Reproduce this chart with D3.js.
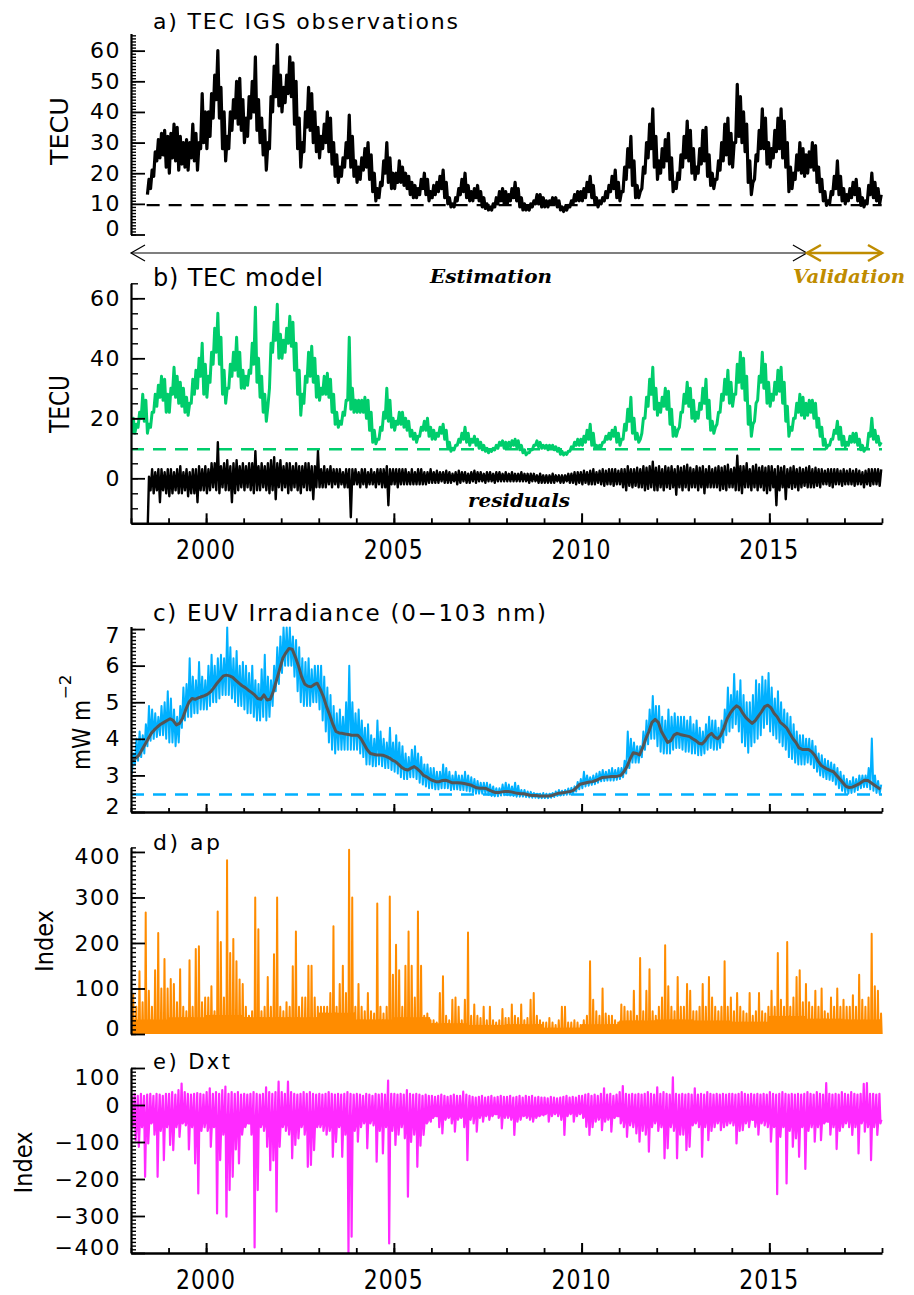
<!DOCTYPE html>
<html lang="en">
<head>
<meta charset="UTF-8">
<title>TEC, EUV irradiance and geomagnetic indices 1998-2018</title>
<script src="https://d3js.org/d3.v7.min.js"></script>
<style>
  body { margin: 0; background: #fff; }
  svg { display: block; font-family: "DejaVu Sans", sans-serif; }
</style>
</head>
<body>
<svg id="chart" width="914" height="1295"></svg>
<script>
// ---- data: one value per month, Jan 1998 .. Dec 2017 (one row per year) ----

// a) TEC IGS observations, monthly low / high of the daily curve (TECU)
const tecObsHi = [
  null,null,null,null,null,18,21,27,31,33,34,32,
  33,36,35,32,30,31,30,36,33,30,46,40,
  40,46,52,60,48,40,32,40,44,50,51,44,
  38,45,50,58,44,38,34,30,45,55,62,52,
  48,52,58,56,50,38,30,40,48,46,40,35,
  32,36,40,38,30,26,22,25,30,39,32,24,
  22,25,28,30,26,20,15,17,24,30,25,20,
  20,24,22,20,19,17,16,15,18,20,18,14,
  16,17,19,21,17,12,10,12,15,18,20,16,
  14,15,16,14,12,10,9,10,12,14,15,14,
  13,15,17,15,12,10,9,10,11,13,13,12,
  11,11,12,12,11,9,9,9.5,11,13,14,14,
  15,17,19,16,12,11,12,14,16,19,21,17,
  14,22,28,32,24,16,14,22,30,36,41,32,
  24,28,31,33,25,17,20,26,32,37,34,28,
  22,28,34,35,26,20,18,24,30,36,38,33,
  30,49,45,40,36,24,17,26,34,41,38,30,
  28,34,38,41,37,30,22,20,26,30,28,26,
  27,30,29,22,18,14,11,14,19,24,19,15,
  13,15,17,18,15,12,11,16,20,17,15,13
];
const tecObsLo = [
  null,null,null,null,null,13,15,19,24,25,26,22,
  20,25,24,21,23,22,21,25,24,21,28,30,
  28,32,38,44,38,28,24,28,34,38,36,34,
  30,32,38,40,34,30,26,21,28,40,45,42,
  40,43,46,45,36,28,22,27,35,34,30,27,
  25,28,30,27,23,19,17,19,22,25,22,19,
  17,18,21,22,18,14,11,12,16,20,17,15,
  15,17,17,16,15,13,12,12,13,15,13,11,
  12,13,14,15,12,10,9,9,11,13,14,12,
  11,11,12,11,9,8.5,8,8,9,10,11,10,
  10,11,12,11,9,8,8,8,9,10,10,9,
  9,9,10,10,9,8,7.5,8,9,10,11,11,
  11,12,14,12,10,9,10,11,12,14,15,12,
  11,14,18,22,16,12,12,15,20,25,28,22,
  18,20,22,24,18,14,15,18,22,25,24,20,
  18,20,23,24,19,16,15,18,21,24,26,23,
  22,30,32,30,27,17,13,18,24,28,28,23,
  22,25,27,28,25,22,14,15,18,21,20,19,
  20,22,21,17,14,11,9.5,10,13,15,13,11,
  10,11,12,13,11,9.5,9,10,13,12,11,10
];

// b) TEC model, monthly low / high (TECU)
const tecModHi = [
  20,18,22,28,26,18,22,28,31,34,33,28,
  30,37,34,32,30,27,25,33,36,40,45,38,
  34,42,50,55,47,36,30,38,42,47,42,36,
  34,36,45,57,40,34,28,24,45,52,58,48,
  46,50,54,52,45,36,28,34,42,44,40,34,
  30,34,35,33,28,22,19,22,26,47,30,26,
  26,26,27,26,22,16,13,17,22,30,26,20,
  19,22,22,20,19,16,15,14,17,19,20,17,
  16,15,17,18,16,12,10,11,13,15,17,15,
  13,14,13,12,11,10,9.5,10,11,12,12.5,12,
  12,12.5,13,12.5,11,9.5,8.5,9.5,11,12.5,12,11,
  11,11,11,10.5,10,9,8.5,9,10.5,12,13,13,
  14,16,18,15,11,11,12,14,15,16,17,15,
  13,18,23,27,20,15,13,20,27,33,37,30,
  25,27,30,29,23,17,16,22,28,32,30,26,
  22,25,30,33,26,19,17,22,28,33,36,32,
  28,38,42,40,34,24,18,25,34,42,38,32,
  28,32,36,37,32,24,17,20,25,28,27,25,
  26,26,25,20,17,13,11,13,16,19,17,14,
  12,14,15,15,13,11,10,15,20,16,14,12
];
const tecModLo = [
  15,15,17,20,19,15,17,22,24,27,26,22,
  22,28,27,25,24,22,21,25,28,30,34,28,
  27,32,38,42,38,28,25,30,34,36,34,30,
  30,31,35,38,32,27,22,19,30,42,46,40,
  40,42,45,44,36,28,21,25,32,34,32,27,
  26,28,28,27,22,18,17,18,21,26,23,22,
  22,22,22,20,16,12,11.5,13,16,20,19,17,
  16,18,18,17,16,14,13,12,14,16,16,14,
  13,13,14,15,13,10,9,9.5,11,12,13,12,
  11,12,11,10,9.5,9,8.5,9,9.5,10,11,10,
  10,10.5,11,10.5,9.5,8.5,7.8,8.5,9.5,11,10.5,10,
  10,9.5,10,9.5,9,8,7.8,8,9,10,11,11,
  11,12,13,11,10,10,10.5,12,13,13,14,12,
  11,13,16,19,15,13,12,15,20,24,28,23,
  21,22,24,23,18,14,14,17,22,25,24,20,
  19,20,23,25,20,16,15,18,22,26,28,25,
  24,28,32,30,26,18,14,19,26,32,30,25,
  24,26,28,29,25,19,14,16,20,22,21,20,
  21,22,20,17,14,11,10,11,13,15,13,11,
  10.5,11,12,12,11,9.5,9,10,14,13,12,11
];

// b) residuals (obs - model), monthly low / high (TECU)
const resHi = [
  null,null,null,null,null,0.5,3,2,3,3,2,3,
  3,2,3,4,2,3,2,3,3,4,3,4,
  3,5,5,12,4,5,6,4,5,6,4,5,
  4,5,5,9,4,5,4,5,6,7,5,6,
  4,5,5,4,5,4,4,5,5,4,4,9,
  3,4,3,4,3,3,3,2,3,3,3,3,
  2,3,3,2,3,2,3,3,3,4,3,3,
  3,3,3,3,2,3,2,3,3,2,2,3,
  2,2.5,2,2,2.5,2,1.5,2,2.5,2,2,1.5,
  2,2.5,2,2,1.5,2,2,1.5,2,2,1.5,2,
  1.5,2,1.5,1.5,2,1.5,1.5,1.5,1.5,1,1.5,1,
  1,1,1.5,1,1,1,1,1.5,1.5,2,2,2,
  2.5,2,2.5,3,2,2.5,3,2.5,3,3,3,2.5,
  3,3,4,3,3,3.5,3,4,3.5,4,5.5,3.5,
  4,3,4,3.5,4,3,4,3.5,4,4.5,3.5,3,
  4,3.5,4,3,4,3,3.5,4,3.5,4,4.5,3,
  3.5,7.5,4,4,5,3,4,4.5,3.5,4,3.5,4,
  4,3,4,3.5,4,3,3.5,4,3,3.5,3,3.5,
  4,3,3.5,3,3,2.5,3,3,3,3,2.5,3,
  2.5,3,2.5,3,2.5,2,2.5,3,3,3,3,3
];
const resLo = [
  null,null,null,null,null,-20,-4,-5,-4,-8,-4,-5,
  -6,-5,-4,-5,-5,-4,-6,-5,-5,-8,-4,-4,
  -5,-4,-3,-4,-5,-3,-4,-4,-8,-5,-4,-3,
  -4,-3,-4,-5,-4,-4,-3,-4,-5,-4,-7,-3,
  -4,-3,-5,-4,-3,-4,-5,-3,-4,-4,-7,-3,
  -3,-3,-3,-2,-3,-2,-3,-2,-3,-3,-13,-2,
  -2,-3,-2,-3,-2,-2,-3,-2,-3,-3,-9,-2,
  -2,-3,-2,-2,-2,-2,-2,-2,-2,-2,-2,-1.5,
  -1.5,-1.5,-1.5,-1,-1.5,-1.5,-1.5,-1,-2,-1.5,-1,-1.5,
  -1.5,-1,-1.5,-1,-1,-1.5,-1,-1,-1.5,-1,-1,-1,
  -1,-1,-1,-1,-1,-1,-1,-1.5,-1,-1,-1.5,-1.5,
  -1.5,-1.5,-1.5,-1.5,-1,-1.5,-1.5,-1,-1.5,-1.5,-2,-1.5,
  -2,-1.5,-2,-2,-2,-1.5,-2,-2.5,-2,-2,-2.5,-2,
  -2,-3,-4,-2.5,-3,-2.5,-3,-3,-4,-3.5,-3,-4,
  -4,-3,-4,-3,-3.5,-3,-5.5,-3,-4,-3,-4,-3,
  -3,-4,-3,-5,-3,-3,-3,-3,-4,-3.5,-4,-3,
  -3,-4,-4,-5,-3,-3,-4,-3,-4,-3,-4,-5,
  -4,-3,-9,-4,-3,-7,-3,-3.5,-3,-4,-3,-2.5,
  -3,-3,-3,-2.5,-3,-2,-2,-2.5,-3,-2,-2,-2.5,
  -2,-2,-2,-2.5,-2,-2,-3,-2,-2.5,-2,-2,-2.5
];

// c) EUV irradiance 0-103 nm (mW m^-2): monthly low / high and smoothed curve
const euvHi = [
  3.6,4.0,4.2,4.1,4.4,4.9,4.8,4.7,4.6,4.9,5.0,5.3,
  5.1,4.8,4.6,4.9,5.4,5.5,6.2,5.7,5.6,6.1,5.7,5.6,
  6.0,6.3,6.0,6.2,6.3,6.2,7.05,6.5,6.2,6.4,6.0,6.1,
  6.0,5.8,6.0,5.6,5.5,5.9,6.3,5.7,5.6,6.0,6.5,6.8,
  7.05,7.05,7.05,6.8,6.7,6.5,6.2,6.1,6.2,5.9,6.0,6.0,
  6.0,5.7,5.4,5.2,4.9,4.7,4.8,4.6,5.0,6.0,5.0,4.7,
  4.8,4.5,4.3,4.4,4.1,4.0,4.5,4.2,4.0,3.9,4.3,3.9,
  4.1,3.9,3.8,3.6,3.5,3.7,3.8,3.6,3.5,3.3,3.3,3.2,
  3.2,3.1,3.1,3.3,3.2,3.1,3.0,3.1,3.0,3.0,3.1,3.0,
  2.95,2.9,2.85,2.8,2.8,2.8,2.75,2.7,2.65,2.65,2.75,2.8,
  2.75,2.7,2.8,2.72,2.6,2.6,2.56,2.55,2.52,2.5,2.5,2.52,
  2.5,2.5,2.52,2.56,2.6,2.58,2.6,2.64,2.66,2.7,2.82,2.9,
  3.1,3.0,2.95,3.0,3.05,3.1,3.15,3.1,3.15,3.2,3.15,3.2,
  3.2,3.4,4.2,4.0,3.9,3.8,3.8,4.2,4.5,4.8,5.17,4.9,
  4.9,4.6,4.5,4.8,4.6,4.7,4.6,4.6,4.6,4.5,4.6,4.4,
  4.5,4.3,4.2,4.4,4.6,4.5,4.5,4.3,4.5,4.8,5.4,5.2,
  5.77,5.3,5.6,5.2,5.0,5.0,5.2,5.6,5.5,5.7,5.6,5.8,
  5.4,5.1,5.3,5.0,4.8,4.7,4.6,4.4,4.2,4.1,4.1,4.0,
  4.0,3.95,3.8,3.6,3.55,3.45,3.4,3.35,3.3,3.2,3.1,3.0,
  2.9,2.85,2.95,2.9,3.0,3.0,3.0,3.2,4.01,3.0,2.85,2.75
];
const euvLo = [
  3.05,3.3,3.4,3.5,3.6,3.8,3.95,4.0,4.05,4.1,4.1,4.0,
  3.9,3.9,3.8,3.9,4.3,4.5,4.6,4.6,4.7,4.7,4.8,4.8,
  4.8,4.9,5.0,5.0,5.1,5.2,5.2,5.2,5.1,5.0,4.9,4.9,
  4.8,4.7,4.7,4.6,4.5,4.5,4.6,4.5,4.6,4.9,5.3,5.5,
  5.8,6.0,6.0,6.0,5.7,5.3,5.0,4.9,4.9,4.9,5.0,5.0,
  4.8,4.5,4.2,3.9,3.7,3.6,3.7,3.7,3.7,3.7,3.7,3.7,
  3.7,3.6,3.5,3.3,3.3,3.25,3.25,3.3,3.25,3.2,3.2,3.15,
  3.1,3.05,2.95,2.9,2.9,2.95,2.95,2.9,2.8,2.75,2.7,2.65,
  2.65,2.62,2.62,2.65,2.65,2.65,2.6,2.62,2.62,2.6,2.6,2.58,
  2.56,2.53,2.5,2.5,2.5,2.5,2.47,2.44,2.43,2.43,2.45,2.46,
  2.46,2.45,2.44,2.42,2.42,2.42,2.41,2.4,2.39,2.39,2.38,2.38,
  2.38,2.38,2.39,2.41,2.44,2.45,2.46,2.47,2.48,2.5,2.56,2.62,
  2.65,2.7,2.72,2.74,2.76,2.8,2.84,2.85,2.86,2.86,2.86,2.88,
  2.9,2.95,3.05,3.2,3.35,3.35,3.35,3.5,3.7,3.85,4.0,4.0,
  3.8,3.65,3.6,3.6,3.6,3.7,3.75,3.75,3.7,3.65,3.65,3.6,
  3.6,3.55,3.55,3.6,3.7,3.75,3.7,3.7,3.75,3.9,4.1,4.2,
  4.3,4.4,4.2,3.9,3.8,3.62,3.8,3.9,4.0,4.1,4.3,4.4,
  4.2,4.1,4.0,3.9,3.8,3.7,3.5,3.45,3.35,3.3,3.3,3.3,
  3.35,3.3,3.2,3.1,3.0,2.95,2.9,2.88,2.85,2.75,2.65,2.58,
  2.52,2.5,2.52,2.55,2.6,2.65,2.68,2.68,2.62,2.58,2.52,2.5
];
const euvSmooth = [
  3.42,3.47,3.55,3.7,3.85,4.0,4.15,4.25,4.33,4.4,4.45,4.5,
  4.55,4.5,4.38,4.42,4.56,4.8,5.0,5.1,5.08,5.12,5.15,5.18,
  5.22,5.29,5.4,5.52,5.62,5.72,5.74,5.72,5.68,5.6,5.52,5.45,
  5.4,5.33,5.27,5.2,5.1,5.08,5.2,5.06,5.08,5.3,5.6,5.9,
  6.2,6.35,6.47,6.45,6.24,6.0,5.7,5.5,5.44,5.42,5.48,5.52,
  5.35,5.15,4.88,4.65,4.4,4.2,4.16,4.15,4.13,4.12,4.1,4.1,
  4.1,4.0,3.85,3.7,3.6,3.58,3.56,3.56,3.55,3.52,3.48,3.42,
  3.38,3.3,3.22,3.17,3.15,3.2,3.24,3.18,3.1,3.0,2.96,2.9,
  2.86,2.83,2.83,2.86,2.87,2.84,2.8,2.8,2.8,2.79,2.78,2.76,
  2.74,2.7,2.66,2.65,2.65,2.64,2.6,2.56,2.53,2.53,2.55,2.56,
  2.56,2.55,2.53,2.51,2.5,2.5,2.48,2.46,2.45,2.45,2.44,2.44,
  2.44,2.44,2.45,2.48,2.51,2.52,2.53,2.55,2.56,2.6,2.68,2.76,
  2.78,2.8,2.82,2.83,2.86,2.9,2.94,2.95,2.96,2.97,2.97,2.98,
  3.0,3.1,3.24,3.45,3.62,3.6,3.56,3.75,4.0,4.2,4.45,4.53,
  4.45,4.2,4.05,3.9,3.95,4.1,4.15,4.12,4.1,4.08,4.06,4.0,
  3.95,3.88,3.86,3.95,4.08,4.15,4.05,4.0,4.1,4.3,4.55,4.7,
  4.82,4.9,4.85,4.7,4.58,4.5,4.42,4.5,4.62,4.74,4.88,4.92,
  4.85,4.7,4.6,4.45,4.38,4.3,4.15,4.01,3.9,3.75,3.71,3.71,
  3.71,3.65,3.55,3.4,3.28,3.22,3.17,3.13,3.1,3.0,2.9,2.8,
  2.7,2.67,2.68,2.72,2.76,2.82,2.87,2.86,2.8,2.74,2.68,2.62
];

// d) ap index: monthly maximum, and a typical daily level per year
const apMax = [
  87,60,138,70,267,95,60,140,222,100,165,100,
  121,110,70,142,60,50,162,60,187,193,70,80,
  80,105,50,269,202,80,382,178,209,160,120,110,
  60,40,50,300,230,50,60,125,60,175,300,60,
  50,70,60,149,225,60,80,80,150,150,80,60,
  60,60,60,90,237,60,110,150,90,405,300,60,
  110,60,50,90,50,45,287,60,45,60,302,130,
  196,140,60,150,225,150,80,269,150,40,45,30,
  30,25,90,127,40,30,75,80,60,30,75,223,
  40,65,40,35,60,30,60,30,25,30,55,35,
  35,65,40,35,65,30,35,75,90,40,30,25,
  25,35,25,20,30,60,60,25,25,30,25,20,
  30,40,160,75,50,40,100,45,40,40,30,25,
  65,60,50,50,95,40,167,50,95,142,50,40,
  60,80,195,105,60,50,125,60,60,110,95,50,
  50,60,110,60,125,80,60,50,60,160,60,80,
  50,90,60,50,45,90,40,50,90,50,45,60,
  95,60,178,75,60,202,60,80,125,140,70,110,
  70,60,95,60,100,50,45,80,60,100,60,75,
  60,60,85,60,130,75,60,80,220,105,95,45
];
const apBase = [30,35,40,35,35,45,30,35,22,18,20,12,20,28,30,28,25,38,32,30];

// e) Dxt index: monthly minimum / maximum, and a typical negative level per year
const dxtMin = [
  -60,-95,-113,-60,-194,-104,-50,-80,-194,-70,-149,-60,
  -108,-122,-60,-86,-50,-55,-120,-60,-158,-239,-70,-60,
  -70,-113,-60,-293,-149,-80,-302,-230,-194,-120,-158,-80,
  -60,-50,-80,-385,-230,-60,-70,-113,-176,-150,-288,-113,
  -60,-70,-80,-144,-108,-90,-60,-80,-167,-162,-122,-60,
  -60,-70,-80,-70,-140,-100,-60,-140,-80,-400,-356,-70,
  -99,-60,-50,-117,-50,-55,-153,-70,-131,-60,-374,-70,
  -108,-80,-60,-90,-248,-100,-80,-167,-110,-81,-50,-40,
  -35,-30,-60,-77,-40,-35,-50,-72,-40,-35,-60,-149,
  -40,-50,-72,-35,-45,-30,-40,-30,-25,-35,-63,-35,
  -35,-40,-81,-45,-40,-30,-35,-40,-45,-35,-30,-25,
  -25,-45,-30,-25,-30,-40,-81,-30,-25,-45,-30,-25,
  -35,-59,-81,-60,-45,-40,-68,-45,-40,-72,-35,-30,
  -50,-60,-86,-55,-60,-77,-99,-70,-80,-126,-60,-50,
  -70,-60,-144,-117,-60,-70,-144,-80,-80,-122,-113,-55,
  -50,-60,-140,-60,-95,-70,-60,-50,-68,-60,-55,-50,
  -55,-104,-70,-68,-50,-60,-40,-59,-80,-50,-55,-60,
  -99,-60,-241,-86,-60,-212,-70,-113,-90,-140,-60,-173,
  -70,-60,-99,-60,-95,-50,-45,-80,-60,-119,-70,-60,
  -50,-60,-81,-60,-131,-50,-72,-60,-149,-60,-81,-50
];
const dxtMax = [
  25,30,25,30,25,28,30,25,30,28,25,30,
  30,35,28,40,58,35,30,28,30,32,30,28,
  35,45,30,35,30,40,50,30,35,30,35,28,
  30,28,30,35,30,28,30,48,35,30,35,63,
  35,30,63,35,30,28,30,35,30,35,30,28,
  30,28,30,35,30,28,30,28,30,35,30,28,
  30,28,25,30,28,25,30,28,30,28,66,30,
  30,28,30,28,40,30,28,30,28,25,28,25,
  25,22,25,28,25,22,25,28,25,25,36,28,
  25,22,20,22,25,20,22,25,20,22,25,22,
  22,25,20,22,25,20,25,22,25,20,22,20,
  20,18,22,20,18,20,22,25,20,22,20,25,
  25,28,30,25,28,25,30,45,28,30,25,28,
  35,51,30,28,30,28,30,28,30,35,30,28,
  48,30,35,30,28,75,30,28,30,28,30,28,
  45,28,30,28,35,30,28,30,28,30,28,30,
  30,28,30,35,30,28,30,28,30,28,30,28,
  35,30,28,30,35,30,28,30,28,30,28,30,
  35,30,28,35,30,28,59,30,28,30,28,35,
  30,28,35,30,28,30,57,59,30,30,28,30
];
const dxtBase = [-45,-45,-55,-50,-50,-50,-40,-45,-30,-25,-28,-20,-30,-40,-45,-40,-40,-50,-45,-40];

// reference levels (dashed lines) and the estimation / validation split
const tecFloorObs = 9.6, tecFloorMod = 9.7, euvFloor = 2.48;
const periodBreaks = [1998, 2016, 2018];
const labelYears = [2000, 2005, 2010, 2015];

// ---- colours ----
const col = {
  obs: "#000", model: "#00cd6c", euv: "#00b0ff", euvSmooth: "#555",
  ap: "#ff8c00", dxt: "#ff2aff", gold: "#bf8c00"
};

const svg = d3.select("#chart");
const axisX = 131;
const x = d3.scaleLinear().domain([1998, 2018]).range([axisX, 882]);
const monthT = (m, f) => 1998 + (m + f) / 12;

const panels = {
  a: { y: d3.scaleLinear().domain([0, 65.6]).range([234.5, 33.5]), major: d3.range(0, 61, 10), minor: d3.range(0, 66, 1), minorLen: 5 },
  b: { y: d3.scaleLinear().domain([-15, 65]).range([523.3, 283.3]), major: [0, 20, 40, 60], minor: d3.range(-15, 66, 5), minorLen: 7 },
  c: { y: d3.scaleLinear().domain([2, 7.07]).range([812, 626.5]), major: d3.range(2, 8), minor: d3.range(20, 71).map(v => v / 10), minorLen: 5 },
  d: { y: d3.scaleLinear().domain([0, 410]).range([1034, 847.4]), major: d3.range(0, 401, 100), minor: d3.range(0, 411, 10), minorLen: 5 },
  e: { y: d3.scaleLinear().domain([-400, 100]).range([1253, 1068]), major: d3.range(-400, 101, 100), minor: d3.range(-400, 101, 10), minorLen: 5 }
};

// clip each panel to its plotting area
const defs = svg.append("defs");
Object.entries(panels).forEach(([k, p]) => {
  const [b, t] = p.y.range();
  defs.append("clipPath").attr("id", "clip-" + k)
    .append("rect").attr("x", axisX).attr("y", t).attr("width", 882 - axisX + 2).attr("height", b - t);
});

// ---- helpers ----
function zigzag(los, his) {
  const pts = [];
  los.forEach((lo, m) => {
    pts.push({ t: monthT(m, 0.25), v: lo });
    pts.push({ t: monthT(m, 0.75), v: his[m] });
  });
  return pts;
}

function drawLine(k, pts, color, width) {
  const p = panels[k];
  const line = d3.line().defined(d => d.v != null).x(d => x(d.t)).y(d => p.y(d.v));
  svg.append("path").attr("clip-path", `url(#clip-${k})`)
    .attr("d", line(pts)).attr("fill", "none").attr("stroke", color)
    .attr("stroke-width", width).attr("stroke-linejoin", "round");
}

function dashed(k, t0, t1, v, color) {
  const p = panels[k];
  svg.append("line").attr("x1", x(t0)).attr("x2", x(t1))
    .attr("y1", p.y(v)).attr("y2", p.y(v))
    .attr("stroke", color).attr("stroke-width", 2.4).attr("stroke-dasharray", "13,9");
}

function yAxis(k) {
  const p = panels[k];
  const [bottom, top] = p.y.range();
  const gm = svg.append("g").attr("transform", `translate(${axisX},0)`)
    .call(d3.axisLeft(p.y).tickValues(p.minor).tickSizeInner(-p.minorLen).tickSizeOuter(0).tickFormat(""));
  gm.select(".domain").remove();
  gm.selectAll("line").attr("stroke-width", 1.4);
  const g = svg.append("g").attr("transform", `translate(${axisX},0)`)
    .call(d3.axisLeft(p.y).tickValues(p.major).tickSizeInner(-14).tickSizeOuter(0).tickPadding(10).tickFormat(d3.format("d")));
  g.attr("font-family", "DejaVu Sans").attr("font-size", 22);
  g.select(".domain").attr("stroke-width", 2.2);
  g.selectAll(".tick line").attr("stroke-width", 1.8);
  g.selectAll(".tick text").attr("letter-spacing", 1.5)
    .attr("y", v => { const yv = p.y(v); return Math.max(top + 9, Math.min(bottom - 6, yv)) - yv; });
}

function xAxis(k, majorLen, minorLen, withLabels) {
  const yPos = panels[k].y.range()[0];
  const gm = svg.append("g").attr("transform", `translate(0,${yPos})`)
    .call(d3.axisBottom(x).tickValues(d3.range(1998, 2019)).tickSizeInner(-minorLen).tickSizeOuter(0).tickFormat(""));
  gm.select(".domain").remove();
  gm.selectAll("line").attr("stroke-width", 1.8);
  const g = svg.append("g").attr("transform", `translate(0,${yPos})`)
    .call(d3.axisBottom(x).tickValues(labelYears).tickSizeInner(-majorLen).tickSizeOuter(0).tickFormat(""));
  g.select(".domain").attr("stroke-width", 2.5);
  g.selectAll(".tick line").attr("stroke-width", 2);
  if (withLabels) {
    svg.append("g").selectAll("text").data(labelYears).join("text")
      .attr("transform", d => `translate(${x(d)},${yPos + 35.5}) scale(1,1.2)`)
      .attr("text-anchor", "middle").attr("font-size", 22).attr("letter-spacing", 1)
      .text(d => d);
  }
}

function title(str, yBase, size, len) {
  svg.append("text").attr("x", 153).attr("y", yBase).attr("font-size", size)
    .attr("textLength", len).attr("lengthAdjust", "spacing").text(str);
}

function vText(str, xBase, yCenter, size, len) {
  svg.append("text").attr("transform", `translate(${xBase},${yCenter}) rotate(-90)`)
    .attr("text-anchor", "middle").attr("font-size", size)
    .attr("textLength", len).attr("lengthAdjust", "spacingAndGlyphs").text(str);
}

// ---- a) TEC observations ----
drawLine("a", zigzag(tecObsLo, tecObsHi), col.obs, 3.2);
dashed("a", monthT(5, 0), monthT(239, 0.9), tecFloorObs, "#000");
yAxis("a");
title("a) TEC IGS observations", 29, 22, 305);
vText("TECU", 68, 131, 25, 68);

// estimation / validation arrows
const arrowY = 253;
const head = (tip, dir) => `M${tip + 14 * dir},${arrowY - 8}L${tip},${arrowY}L${tip + 14 * dir},${arrowY + 8}`;
const [tA, tB, tC] = periodBreaks.map(x);
svg.append("line").attr("x1", tA).attr("x2", tB).attr("y1", arrowY).attr("y2", arrowY).attr("stroke", "#000").attr("stroke-width", 1.2);
svg.append("path").attr("d", head(tA, 1) + head(tB, -1)).attr("fill", "none").attr("stroke", "#000").attr("stroke-width", 1.2);
svg.append("line").attr("x1", tB).attr("x2", tC).attr("y1", arrowY).attr("y2", arrowY).attr("stroke", col.gold).attr("stroke-width", 2.5);
svg.append("path").attr("d", head(tB, 1) + head(tC, -1)).attr("fill", "none").attr("stroke", col.gold).attr("stroke-width", 2.5);
const serif = sel => sel.attr("font-family", "DejaVu Serif").attr("font-weight", "bold").attr("font-style", "italic");
svg.append("text").call(serif).attr("x", 430).attr("y", 283).attr("font-size", 19)
  .attr("textLength", 122).attr("lengthAdjust", "spacingAndGlyphs").text("Estimation");
svg.append("text").call(serif).attr("x", 793).attr("y", 283).attr("font-size", 19).attr("fill", col.gold)
  .attr("textLength", 112).attr("lengthAdjust", "spacingAndGlyphs").text("Validation");

// ---- b) TEC model and residuals ----
dashed("b", 1998, 2018, tecFloorMod, col.model);
drawLine("b", zigzag(tecModLo, tecModHi), col.model, 3);
drawLine("b", zigzag(resLo, resHi), "#000", 2.4);
svg.append("text").call(serif).attr("x", 468).attr("y", 507).attr("font-size", 19)
  .attr("textLength", 102).attr("lengthAdjust", "spacingAndGlyphs").text("residuals");
yAxis("b");
xAxis("b", 10, 5, true);
title("b) TEC model", 286, 24, 170);
vText("TECU", 69, 404, 27, 58);

// ---- c) EUV irradiance ----
dashed("c", 1998, 2018, euvFloor, col.euv);
drawLine("c", zigzag(euvLo, euvHi), col.euv, 2);
drawLine("c", euvSmooth.map((v, m) => ({ t: monthT(m, 0.5), v })), col.euvSmooth, 3);
yAxis("c");
xAxis("c", 8, 4, false);
title("c) EUV Irradiance (0\u2212103 nm)", 621, 23, 393);
vText("mW m", 90, 735, 25, 70);
vText("\u22122", 71, 687, 16, 25);

// ---- d) ap ----
const apPts = [];
apMax.forEach((v, m) => {
  const base = apBase[Math.floor(m / 12)];
  apPts.push({ t: monthT(m, 0.1), v: 0 }, { t: monthT(m, 0.3), v: base }, { t: monthT(m, 0.5), v: 0 },
             { t: monthT(m, 0.7), v: v }, { t: monthT(m, 0.9), v: 0 });
});
drawLine("d", apPts, col.ap, 2);
yAxis("d");
title("d) ap", 850, 22, 67);
vText("Index", 53, 941, 25, 62);

// ---- e) Dxt ----
const dxtPts = [];
dxtMin.forEach((v, m) => {
  dxtPts.push({ t: monthT(m, 0.17), v: dxtMax[m] }, { t: monthT(m, 0.5), v: v },
              { t: monthT(m, 0.83), v: dxtBase[Math.floor(m / 12)] });
});
drawLine("e", dxtPts, col.dxt, 2.2);
yAxis("e");
xAxis("e", 10, 5, true);
title("e) Dxt", 1069, 21, 77);
vText("Index", 32, 1162.5, 24, 62);
</script>
</body>
</html>
